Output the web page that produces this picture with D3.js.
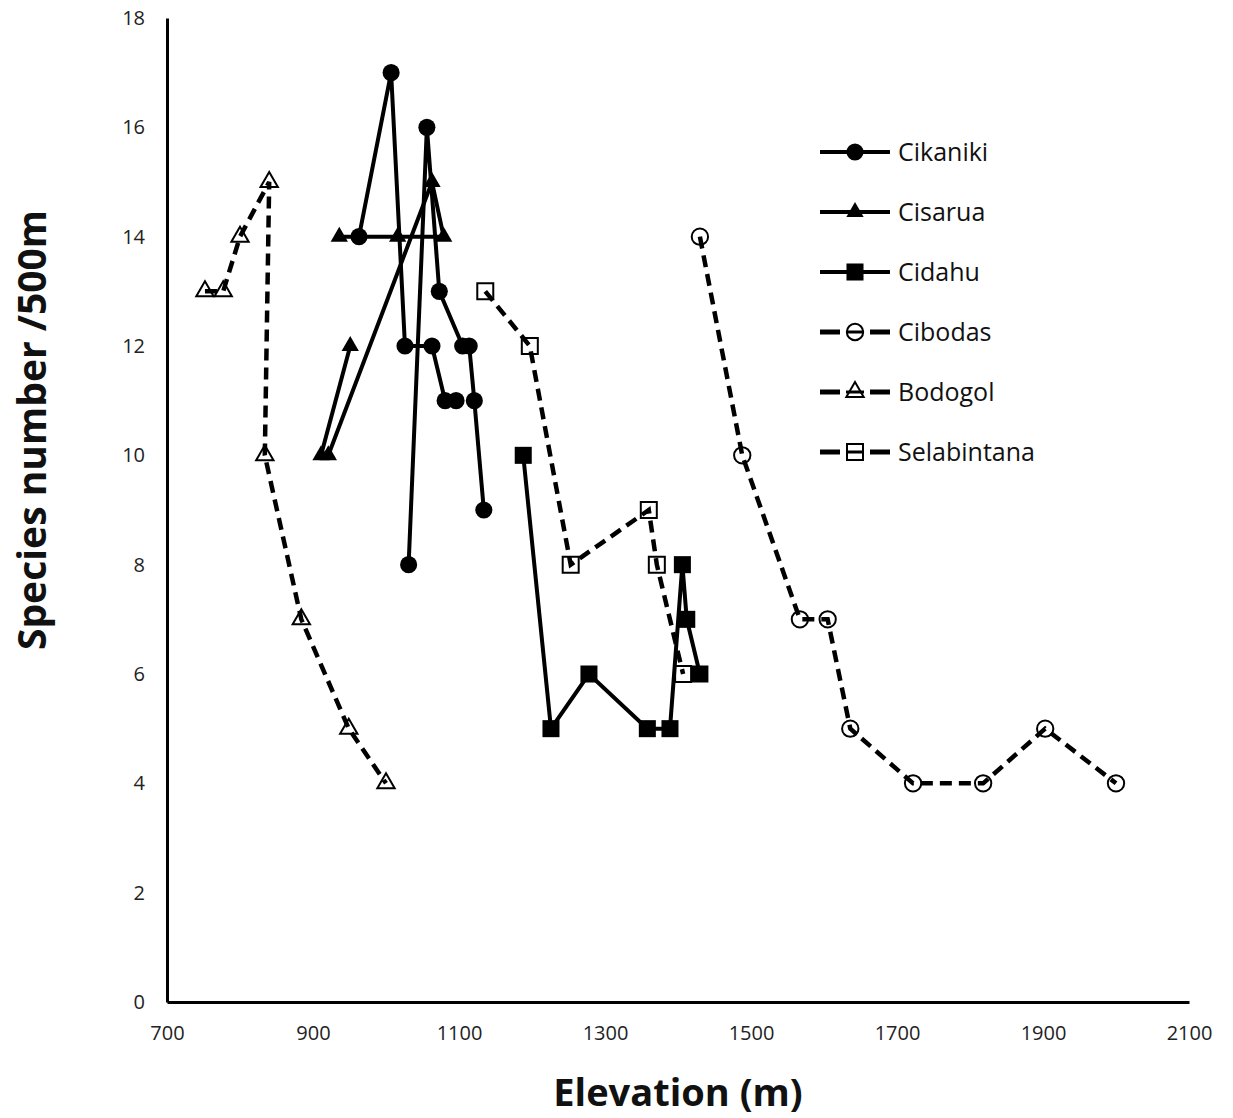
<!DOCTYPE html>
<html>
<head>
<meta charset="utf-8">
<script src="https://cdn.jsdelivr.net/npm/d3@7"></script>
<style>
  body { margin: 0; background: white; }
  text { font-family: "Open Sans", sans-serif; }
</style>
</head>
<body>
<div id="chart"></div>
<script>
// Data (elevation in m, species number per 500 m)
// null = gap in the line
const cikanikiElev = [963, 1007, 1026, 1063, 1081, 1096, null, 1031, 1056, 1073, 1105, 1114, 1121, 1134];
const cikanikiSpp  = [14, 17, 12, 12, 11, 11, null, 8, 16, 13, 12, 12, 11, 9];

const cisaruaElev = [951, 911, 921, 1063, 1079, 1016, 936];
const cisaruaSpp  = [12, 10, 10, 15, 14, 14, 14];

const cidahuElev = [1188, 1226, 1278, 1358, 1389, 1406, 1412, 1430];
const cidahuSpp  = [10, 5, 6, 5, 5, 8, 7, 6];

const cibodasElev = [1430, 1488, 1567, 1605, 1636, 1722, 1818, 1903, 2000];
const cibodasSpp  = [14, 10, 7, 7, 5, 4, 4, 5, 4];

const bodogolElev = [752, 777, 800, 840, 834, 884, 949, 1000];
const bodogolSpp  = [13, 13, 14, 15, 10, 7, 5, 4];

const selabintanaElev = [1136, 1197, 1253, 1360, 1371, 1407];
const selabintanaSpp  = [13, 12, 8, 9, 8, 6];

const xTicks = [700, 900, 1100, 1300, 1500, 1700, 1900, 2100];
const yTicks = [0, 2, 4, 6, 8, 10, 12, 14, 16, 18];

// Chart dimensions
const width = 1233;
const height = 1118;

const x = d3.scaleLinear().domain([700, 2100]).range([167, 1189]);
const y = d3.scaleLinear().domain([0, 18]).range([1002, 18]);

const svg = d3.select("#chart").append("svg")
    .attr("width", width)
    .attr("height", height);

// series table built from the arrays
const series = [
  { name: "Cikaniki", elev: cikanikiElev, spp: cikanikiSpp, symbol: d3.symbolCircle, size: 230, filled: true, dashed: false },
  { name: "Cisarua", elev: cisaruaElev, spp: cisaruaSpp, symbol: d3.symbolTriangle, size: 130, filled: true, dashed: false },
  { name: "Cidahu", elev: cidahuElev, spp: cidahuSpp, symbol: d3.symbolSquare, size: 290, filled: true, dashed: false },
  { name: "Cibodas", elev: cibodasElev, spp: cibodasSpp, symbol: d3.symbolCircle, size: 210, filled: false, dashed: true },
  { name: "Bodogol", elev: bodogolElev, spp: bodogolSpp, symbol: d3.symbolTriangle, size: 130, filled: false, dashed: true },
  { name: "Selabintana", elev: selabintanaElev, spp: selabintanaSpp, symbol: d3.symbolSquare, size: 256, filled: false, dashed: true }
];

// Axes
const yAxis = svg.append("g")
    .attr("transform", `translate(${x(700)},0)`)
    .call(d3.axisLeft(y).tickValues(yTicks).tickFormat(d3.format("d"))
      .tickSize(0).tickSizeOuter(0).tickPadding(22));

const xAxis = svg.append("g")
    .attr("transform", `translate(0,${y(0)})`)
    .call(d3.axisBottom(x).tickValues(xTicks).tickFormat(d3.format("d"))
      .tickSize(0).tickSizeOuter(0).tickPadding(24));

[yAxis, xAxis].forEach(g => {
  g.select(".domain").attr("stroke", "black").attr("stroke-width", 3);
  g.selectAll("text")
    .attr("font-family", "Open Sans, sans-serif")
    .attr("font-size", "20px")
    .attr("fill", "#222");
});

// Lines and markers
const line = d3.line()
    .defined(d => d[0] !== null)
    .x(d => x(d[0]))
    .y(d => y(d[1]));

const marker = (s) => d3.symbol().type(s.symbol).size(s.size);

series.forEach(s => {
  const pts = s.elev.map((e, i) => [e, s.spp[i]]);
  svg.append("path")
      .attr("d", line(pts))
      .attr("fill", "none")
      .attr("stroke", "black")
      .attr("stroke-width", s.dashed ? 4.5 : 4)
      .attr("stroke-dasharray", s.dashed ? "12,7" : null);

  svg.append("g").selectAll("path")
    .data(pts.filter(d => d[0] !== null))
    .join("path")
      .attr("transform", d => `translate(${x(d[0])},${y(d[1])})`)
      .attr("d", marker(s))
      .attr("fill", s.filled ? "black" : "none")
      .attr("stroke", "black")
      .attr("stroke-width", s.filled ? 0 : 2);
});

// Legend
const legend = svg.append("g");
series.forEach((s, i) => {
  const ly = 152 + i * 60;
  const row = legend.append("g").attr("transform", `translate(0,${ly})`);
  if (s.dashed) {
    row.append("line").attr("x1", 820).attr("x2", 840).attr("y1", 0).attr("y2", 0)
      .attr("stroke", "black").attr("stroke-width", 5);
    row.append("line").attr("x1", 870).attr("x2", 890).attr("y1", 0).attr("y2", 0)
      .attr("stroke", "black").attr("stroke-width", 5);
    row.append("line").attr("x1", 846).attr("x2", 864).attr("y1", 0).attr("y2", 0)
      .attr("stroke", "black").attr("stroke-width", 3);
  } else {
    row.append("line").attr("x1", 820).attr("x2", 890).attr("y1", 0).attr("y2", 0)
      .attr("stroke", "black").attr("stroke-width", 4);
  }
  row.append("path")
      .attr("transform", "translate(855,0)")
      .attr("d", marker(s))
      .attr("fill", s.filled ? "black" : "none")
      .attr("stroke", "black")
      .attr("stroke-width", s.filled ? 0 : 2);
  row.append("text")
      .attr("x", 898)
      .attr("y", 0)
      .attr("dy", "0.35em")
      .attr("font-size", "25px")
      .attr("fill", "#111")
      .text(s.name);
});

// Axis titles
svg.append("text")
    .attr("x", 678)
    .attr("y", 1106)
    .attr("text-anchor", "middle")
    .attr("font-size", "38px")
    .attr("font-weight", "bold")
    .attr("fill", "#111")
    .text("Elevation (m)");

svg.append("text")
    .attr("transform", "translate(46,430) rotate(-90)")
    .attr("text-anchor", "middle")
    .attr("font-size", "39px")
    .attr("font-weight", "bold")
    .attr("fill", "#111")
    .text("Species number /500m");
</script>
</body>
</html>
